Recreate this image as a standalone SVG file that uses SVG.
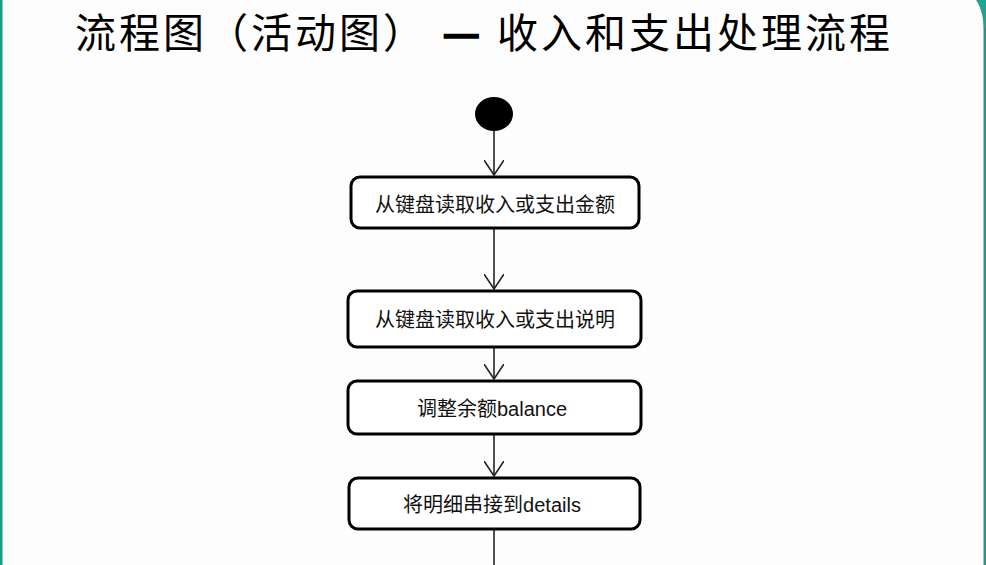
<svg xmlns="http://www.w3.org/2000/svg" width="986" height="565" viewBox="0 0 986 565">
<style>
.box{fill:#fff;stroke:#000;stroke-width:3}
.lbl{font-family:"Liberation Sans","Noto Sans CJK SC",sans-serif;font-size:20px;fill:#111;text-anchor:middle}
.title{font-family:"Noto Sans CJK SC",sans-serif;font-size:41px;letter-spacing:3px;fill:#000}
.dash{stroke:#000;stroke-width:2.5}
.edge{stroke:#222;stroke-width:1.6;fill:none}
</style>
<defs>
<marker id="vee" viewBox="0 0 20 16" refX="10" refY="15" markerWidth="20" markerHeight="16" markerUnits="userSpaceOnUse" orient="0">
<path d="M0,0 L10,15 L20,0" fill="none" stroke="#222" stroke-width="1.6"/>
</marker>
</defs>
<rect x="0" y="0" width="986" height="565" fill="#fdfdfd"/>
<g id="frame">
<rect x="0" y="0" width="2.5" height="565" fill="#1c9c86"/>
<rect x="983.5" y="0" width="2.5" height="565" fill="#1c9c86"/>
<path d="M976,0 L986,0 L986,28 L984,28 C983,14 980,6 976,0 Z" fill="#1fa48e"/>
</g>
<g id="title">
<text class="title" y="48"><tspan x="75">流程图（活动图）</tspan><tspan class="dash" x="443" letter-spacing="0">—</tspan><tspan x="497">收入和支出处理流程</tspan></text>
</g>
<g id="connectors">
<line class="edge" x1="494" y1="131" x2="494" y2="175" marker-end="url(#vee)"/>
<line class="edge" x1="494" y1="228" x2="494" y2="289" marker-end="url(#vee)"/>
<line class="edge" x1="494" y1="347" x2="494" y2="379" marker-end="url(#vee)"/>
<line class="edge" x1="494" y1="434" x2="494" y2="476" marker-end="url(#vee)"/>
<line class="edge" x1="494" y1="529" x2="494" y2="565"/>
</g>
<g id="start">
<ellipse cx="494" cy="114" rx="19" ry="17" fill="#000"/>
</g>
<g id="n1">
<rect class="box" x="351" y="177" width="288" height="51" rx="9"/>
<text class="lbl" x="495" y="212">从键盘读取收入或支出金额</text>
</g>
<g id="n2">
<rect class="box" x="348" y="291" width="293" height="56" rx="9"/>
<text class="lbl" x="495" y="327">从键盘读取收入或支出说明</text>
</g>
<g id="n3">
<rect class="box" x="348" y="381" width="293" height="53" rx="9"/>
<text class="lbl" x="492" y="416">调整余额balance</text>
</g>
<g id="n4">
<rect class="box" x="349" y="478" width="291" height="51" rx="9"/>
<text class="lbl" x="492" y="512">将明细串接到details</text>
</g>
</svg>
